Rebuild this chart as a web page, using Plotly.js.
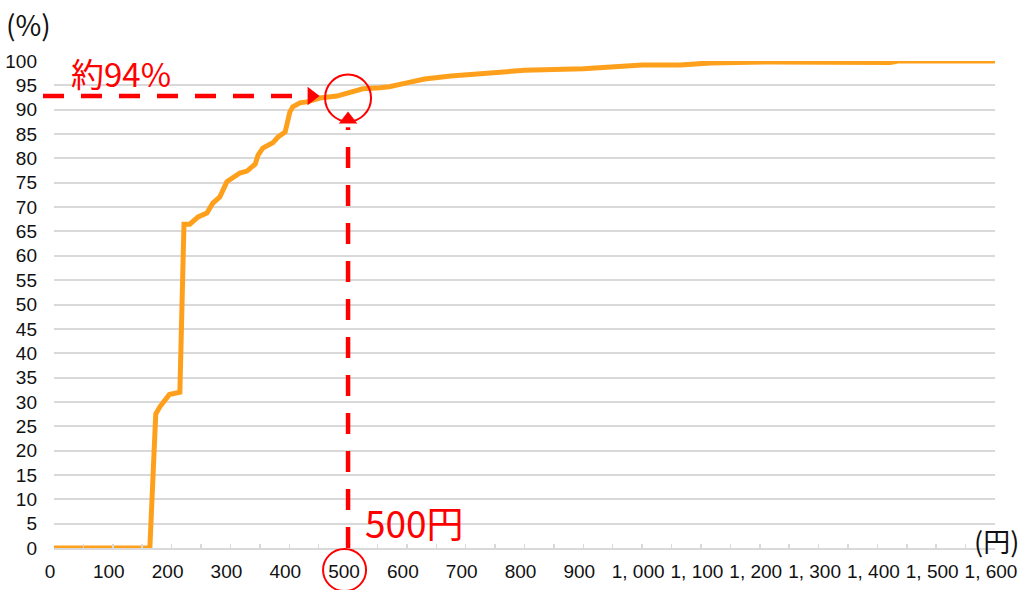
<!DOCTYPE html>
<html>
<head>
<meta charset="utf-8">
<script src="https://cdn.plot.ly/plotly-3.0.1.min.js"></script>
<style>html,body{margin:0;padding:0;background:#fff;}#chart{width:1027px;height:590px;}</style>
</head>
<body>
<div id="chart"></div>
<script>
// Price (yen) and cumulative share (%)
const priceYen = [0, 163, 173, 180, 196, 214, 221, 231, 245, 260, 270, 282, 294, 304, 316, 328, 342, 347, 355, 372, 381, 393, 401, 406, 418, 430, 452, 481, 503, 525, 554, 570, 600, 630, 675, 740, 800, 900, 930, 960, 1000, 1065, 1116, 1218, 1422, 1435, 1600];
const cumPct   = [0, 0, 27.5, 29, 31.5, 32, 66.5, 66.5, 68, 68.8, 70.8, 72.1, 75.2, 76, 77, 77.4, 78.8, 80.7, 82.1, 83.2, 84.4, 85.4, 89.5, 90.6, 91.4, 91.6, 92.4, 92.8, 93.6, 94.3, 94.5, 94.7, 95.5, 96.3, 96.9, 97.6, 98.1, 98.4, 98.6, 99.0, 99.2, 99.2, 99.6, 99.8, 99.7, 100, 100];

const xTickVals = [0,100,200,300,400,500,600,700,800,900,1000,1100,1200,1300,1400,1500,1600];
const xTickText = ['0','100','200','300','400','500','600','700','800','900','1, 000','1, 100','1, 200','1, 300','1, 400','1, 500','1, 600'];

// Highlighted reading
const targetPrice = 500;
const targetPct = 92.8;
const circlePct = 92.4;
const hArrowX = 438;   // yen, horizontal arrow head
const hLineEnd = 427;  // yen
const vArrowY = 88;    // %, vertical arrow head
const vLineEnd = 86.4; // %
const xMax = 1600;

const red = '#FF0000';
const tickFont = {family: '"Liberation Sans", Arial, sans-serif', size: 19, color: '#111'};
const jp = '"Noto Sans CJK JP", sans-serif';

const traces = [
  {
    x: priceYen, y: cumPct, type: 'scatter', mode: 'lines',
    line: {color: '#FFA01C', width: 5}, hoverinfo: 'skip'
  },
  {
    x: [hArrowX], y: [targetPct], type: 'scatter', mode: 'markers',
    marker: {symbol: 'triangle-right', size: 16, color: red}, cliponaxis: false
  },
  {
    x: [targetPrice], y: [vArrowY], type: 'scatter', mode: 'markers',
    marker: {symbol: 'triangle-up', size: 16, color: red}, cliponaxis: false
  }
];

const layout = {
  width: 1027, height: 590, autosize: false,
  margin: {l: 54, r: 32, t: 61, b: 42},
  paper_bgcolor: '#fff', plot_bgcolor: '#fff',
  showlegend: false,
  xaxis: {
    range: [0, xMax], tickvals: xTickVals, ticktext: xTickText,
    showgrid: false, zeroline: false,
    showline: true, linecolor: '#d9d9d9', linewidth: 2,
    ticks: 'inside', ticklen: 4, tickwidth: 1.5, tickcolor: '#d9d9d9',
    minor: {dtick: 50, ticks: 'inside', ticklen: 4, tickwidth: 1.5, tickcolor: '#d9d9d9', showgrid: false},
    tickfont: tickFont, ticklabelstandoff: 5, ticklabelshift: -4
  },
  yaxis: {
    range: [0, 100], dtick: 5,
    showgrid: true, gridcolor: '#d9d9d9', gridwidth: 2,
    zeroline: false, showline: false, ticks: '',
    tickfont: tickFont, ticklabelstandoff: 16
  },
  shapes: [
    {type: 'line', xref: 'paper', yref: 'y', x0: -11/941, x1: hLineEnd / xMax, y0: targetPct, y1: targetPct,
     line: {color: red, width: 4.5, dash: '21px,17px'}},
    {type: 'line', xref: 'x', yref: 'y', x0: targetPrice, x1: targetPrice, y0: 0, y1: vLineEnd,
     line: {color: red, width: 4.5, dash: '21px,17px'}},
    {type: 'circle', xref: 'x', yref: 'y', xsizemode: 'pixel', ysizemode: 'pixel',
     xanchor: targetPrice, yanchor: circlePct, x0: -23, x1: 23, y0: -23.5, y1: 23.5,
     line: {color: red, width: 2}},
    {type: 'circle', xref: 'x', yref: 'paper', xsizemode: 'pixel', ysizemode: 'pixel',
     xanchor: targetPrice, yanchor: 0, x0: -25, x1: 18, y0: -43, y1: -1,
     line: {color: red, width: 2}}
  ],
  annotations: [
    {text: '約94%', xref: 'x', yref: 'y', x: 0, y: 97.6, xanchor: 'left', yanchor: 'middle', xshift: 15,
     showarrow: false, font: {family: jp, size: 33, color: red}},
    {text: '500円', xref: 'x', yref: 'y', x: targetPrice, y: 5.4, xanchor: 'left', yanchor: 'middle', xshift: 15,
     showarrow: false, font: {family: jp, size: 37, color: red}},
    {text: '(%)', xref: 'paper', yref: 'paper', x: -26/941, y: 1 + 37/487, xanchor: 'center', yanchor: 'middle',
     showarrow: false, font: {family: jp, size: 28, color: '#111'}},
    {text: '(円)', xref: 'paper', yref: 'paper', x: 1 + 2/941, y: 8/487, xanchor: 'center', yanchor: 'middle',
     showarrow: false, font: {family: jp, size: 27, color: '#111'}}
  ]
};

Plotly.newPlot('chart', traces, layout, {displayModeBar: false, staticPlot: true});
</script>
</body>
</html>
